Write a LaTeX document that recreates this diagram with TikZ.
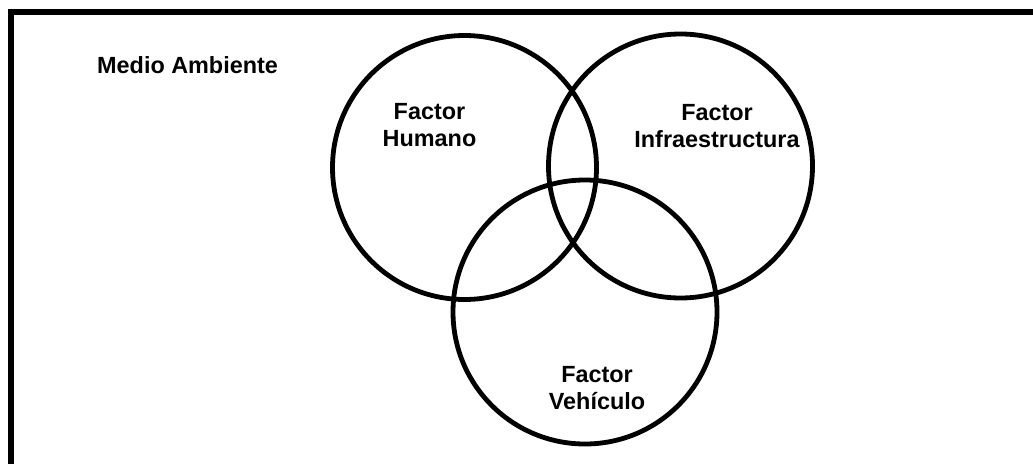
\documentclass[tikz,border=0pt]{standalone}
\usepackage{fontspec}
\setmainfont{Liberation Sans}
\begin{document}
\begin{tikzpicture}[x=1pt,y=-1pt,
  venn/.style={circle,draw,line width=4.8pt,minimum size=264pt,inner sep=0pt},
  lbl/.style={font=\bfseries\fontsize{23.4}{27.5}\selectfont,align=center,inner sep=0pt}]
\useasboundingbox (0,0) rectangle (1033,463);
\begin{scope}
\clip (0,0) rectangle (1033,463);
\draw[line width=6pt] (11,12) rectangle (1100,520);
\end{scope}
\node[venn] (hum) at (464.5,167.5) {};
\node[venn] (inf) at (680.5,166) {};
\node[venn] (veh) at (585,312) {};
\node[lbl,anchor=base west] (medio) at (97,73.3) {Medio Ambiente};
\node[lbl] (thum) at (429.5,125) {Factor\\Humano};
\node[lbl] (tinf) at (717,126) {Factor\\Infraestructura};
\node[lbl] (tveh) at (597,388.3) {Factor\\Vehículo};
\end{tikzpicture}
\end{document}
